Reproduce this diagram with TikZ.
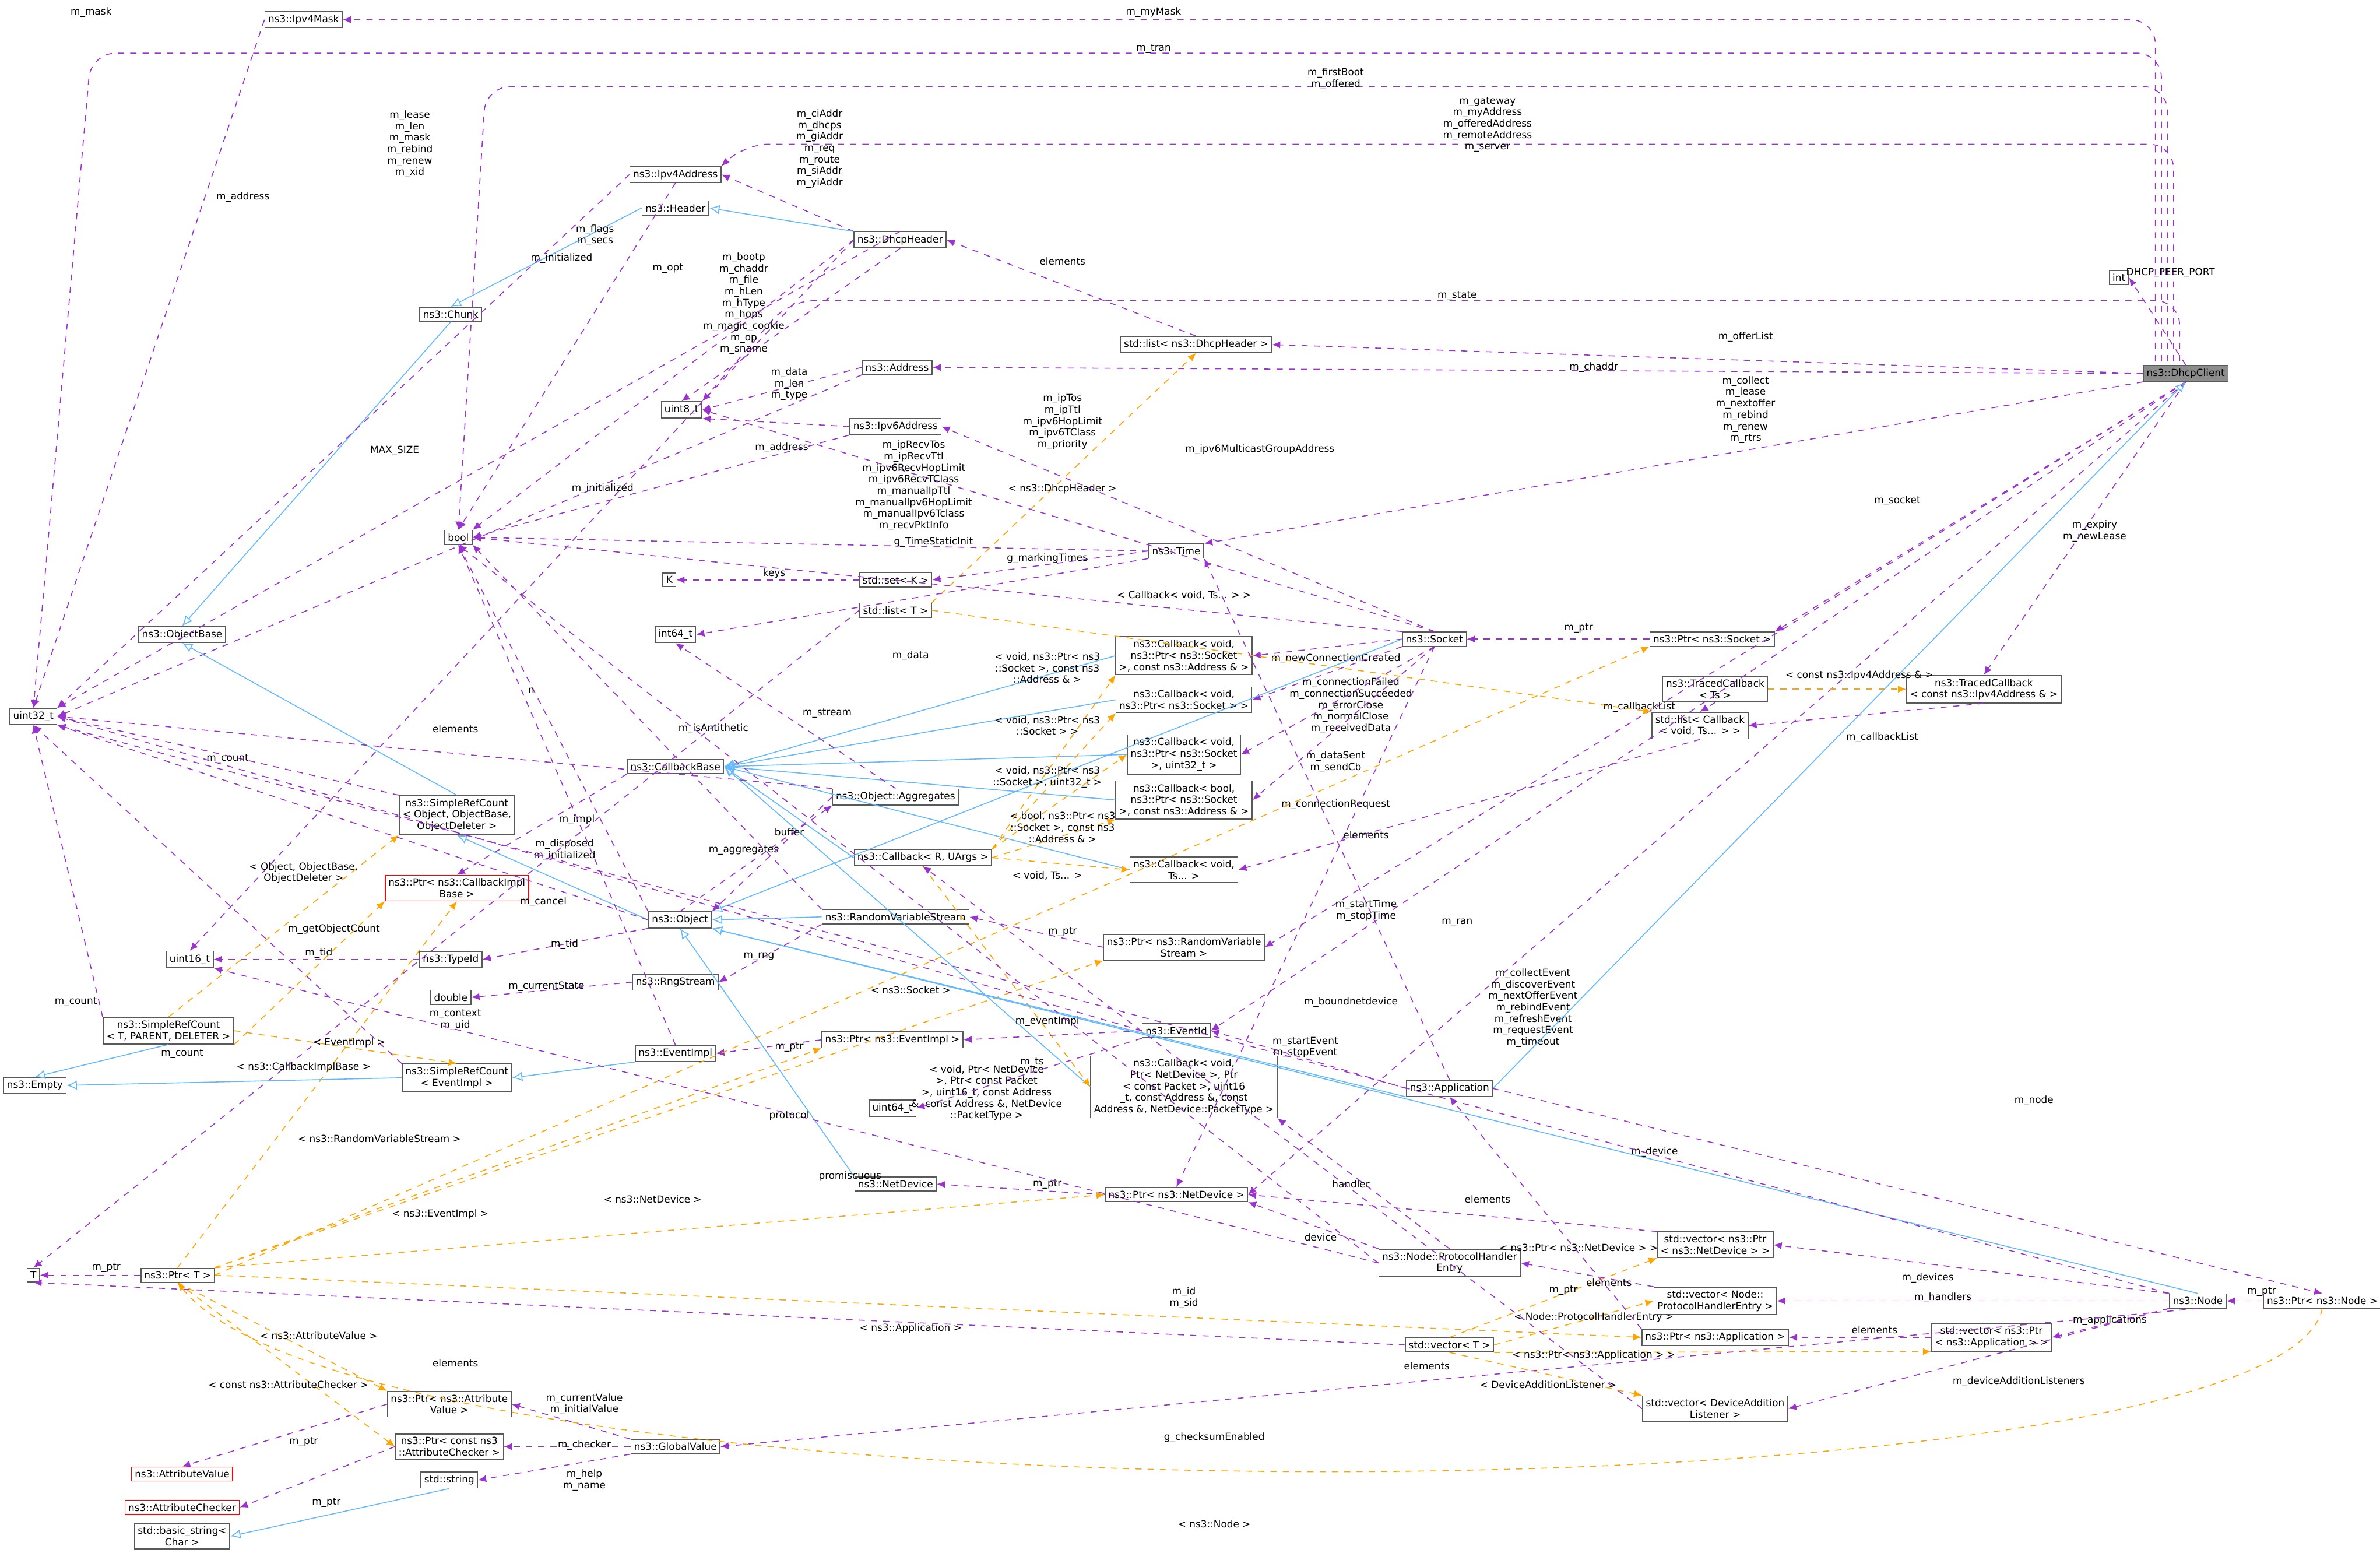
\documentclass[tikz,border=0pt]{standalone}
\usepackage{fontspec}
\setmainfont{DejaVu Sans}
\usetikzlibrary{arrows.meta}
\definecolor{usec}{HTML}{9A32CD}
\definecolor{inhc}{HTML}{63B8FF}
\definecolor{tplc}{HTML}{FFA500}
\tikzset{
 bx/.style={draw=black!65,fill=white,inner sep=1.6pt,align=center,font=\fontsize{4.8}{5.6}\selectfont},
 redbx/.style={bx,draw=red},
 graybx/.style={bx,fill=black!45},
 use/.style={draw=usec,dashed,-{Latex[length=4pt,width=3.5pt]},rounded corners=12pt},
 inh/.style={draw=inhc,-{Latex[open,length=5pt,width=4.5pt]}},
 tpl/.style={draw=tplc,dashed,-{Latex[length=4pt,width=3.5pt]}},
 lbl/.style={font=\fontsize{4.8}{5.6}\selectfont,align=center,inner sep=0.5pt,text=black}
}
\begin{document}
\begin{tikzpicture}[x=0.02604cm,y=-0.02604cm,line width=0.45pt]
\useasboundingbox (0,0) rectangle (1568,1023);
% nodes
\node[bx] (mask) at (200,13) {ns3::Ipv4Mask};
\node[graybx] (dc) at (1440,246) {ns3::DhcpClient};
\node[bx] (int) at (1396,183) {int};
\node[bx] (u32) at (22,472) {uint32\_t};
\node[bx] (ip4) at (445,115) {ns3::Ipv4Address};
\node[bx] (hdr) at (445,137) {ns3::Header};
\node[bx] (chunk) at (297,207) {ns3::Chunk};
\node[bx] (dh) at (593,158) {ns3::DhcpHeader};
\node[bx] (bool) at (302,354) {bool};
\node[bx] (ldh) at (788,227) {std::list< ns3::DhcpHeader >};
\node[bx] (addr) at (591,242) {ns3::Address};
\node[bx] (u8) at (449,270) {uint8\_t};
\node[bx] (ip6) at (590,281) {ns3::Ipv6Address};
\node[bx] (K) at (441,382) {K};
\node[bx] (setK) at (590,382) {std::set< K >};
\node[bx] (time) at (775,363) {ns3::Time};
\node[bx] (listT) at (590,402) {std::list< T >};
\node[bx] (i64) at (445,418) {int64\_t};
\node[bx] (ob) at (120,418) {ns3::ObjectBase};
\node[bx] (sock) at (945,421) {ns3::Socket};
\node[bx] (cbA) at (780,432) {ns3::Callback< void,\\ ns3::Ptr< ns3::Socket\\ >, const ns3::Address \& >};
\node[bx] (cbS) at (780,461) {ns3::Callback< void,\\ ns3::Ptr< ns3::Socket > >};
\node[bx] (psock) at (1128,421) {ns3::Ptr< ns3::Socket >};
\node[bx] (tcT) at (1130,454) {ns3::TracedCallback\\< Ts >};
\node[bx] (tcI) at (1307,454) {ns3::TracedCallback\\< const ns3::Ipv4Address \& >};
\node[bx] (lcb) at (1120,478) {std::list< Callback\\< void, Ts... > >};
\node[bx] (cbb) at (445,505) {ns3::CallbackBase};
\node[bx] (cbU) at (780,497) {ns3::Callback< void,\\ ns3::Ptr< ns3::Socket\\ >, uint32\_t >};
\node[bx] (cbB) at (780,527) {ns3::Callback< bool,\\ ns3::Ptr< ns3::Socket\\ >, const ns3::Address \& >};
\node[bx] (agg) at (590,525) {ns3::Object::Aggregates};
\node[bx] (srcO) at (301,537) {ns3::SimpleRefCount\\< Object, ObjectBase,\\ ObjectDeleter >};
\node[bx] (cbR) at (608,565) {ns3::Callback< R, UArgs >};
\node[redbx] (pcbi) at (301,585) {ns3::Ptr< ns3::CallbackImpl\\Base >};
\node[bx] (cbV) at (780,573) {ns3::Callback< void,\\ Ts... >};
\node[bx] (obj) at (448,606) {ns3::Object};
\node[bx] (rvs) at (590,604) {ns3::RandomVariableStream};
\node[bx] (prvs) at (780,624) {ns3::Ptr< ns3::RandomVariable\\Stream >};
\node[bx] (u16) at (125,632) {uint16\_t};
\node[bx] (tid) at (297,632) {ns3::TypeId};
\node[bx] (rng) at (445,647) {ns3::RngStream};
\node[bx] (dbl) at (297,657) {double};
\node[bx] (srcT) at (111,679) {ns3::SimpleRefCount\\< T, PARENT, DELETER >};
\node[bx] (pev) at (588,685) {ns3::Ptr< ns3::EventImpl >};
\node[bx] (evid) at (775,679) {ns3::EventId};
\node[bx] (evi) at (445,694) {ns3::EventImpl};
\node[bx] (u64) at (588,730) {uint64\_t};
\node[bx] (srcE) at (301,710) {ns3::SimpleRefCount\\< EventImpl >};
\node[bx] (empty) at (23,715) {ns3::Empty};
\node[bx] (app) at (955,717) {ns3::Application};
\node[bx] (cbN) at (780,716) {ns3::Callback< void,\\ Ptr< NetDevice >, Ptr\\< const Packet >, uint16\\\_t, const Address \&, const\\ Address \&, NetDevice::PacketType >};
\node[bx] (nd) at (590,780) {ns3::NetDevice};
\node[bx] (pnd) at (775,787) {ns3::Ptr< ns3::NetDevice >};
\node[bx] (T) at (22,840) {T};
\node[bx] (pT) at (117,840) {ns3::Ptr< T >};
\node[bx] (phe) at (955,832) {ns3::Node::ProtocolHandler\\Entry};
\node[bx] (vnd) at (1130,820) {std::vector< ns3::Ptr\\< ns3::NetDevice > >};
\node[bx] (node) at (1448,857) {ns3::Node};
\node[bx] (pnode) at (1530,857) {ns3::Ptr< ns3::Node >};
\node[bx] (vphe) at (1130,857) {std::vector< Node::\\ProtocolHandlerEntry >};
\node[bx] (vT) at (955,886) {std::vector< T >};
\node[bx] (papp) at (1130,881) {ns3::Ptr< ns3::Application >};
\node[bx] (vapp) at (1312,881) {std::vector< ns3::Ptr\\< ns3::Application > >};
\node[bx] (vdal) at (1130,928) {std::vector< DeviceAddition\\Listener >};
\node[bx] (pav) at (296,925) {ns3::Ptr< ns3::Attribute\\Value >};
\node[redbx] (av) at (120,971) {ns3::AttributeValue};
\node[bx] (pac) at (296,953) {ns3::Ptr< const ns3\\::AttributeChecker >};
\node[bx] (gv) at (445,953) {ns3::GlobalValue};
\node[redbx] (ac) at (120,993) {ns3::AttributeChecker};
\node[bx] (str) at (296,975) {std::string};
\node[bx] (bstr) at (120,1012) {std::basic\_string<\\ Char >};
% DhcpClient edges
\draw[use] (1420,238) |- (mask.east) node[lbl,at={(760,8)}] {m\_myMask};
\draw[use] (1424,238) |- (60,35) -- (u32.north) node[lbl,at={(760,32)}] {m\_tran};
\draw[use] (1428,238) |- (320,57) -- (bool.north) node[lbl,at={(880,52)}] {m\_firstBoot\\m\_offered};
\draw[use] (1432,238) |- (490,95) -- (ip4.north east) node[lbl,at={(980,82)}] {m\_gateway\\m\_myAddress\\m\_offeredAddress\\m\_remoteAddress\\m\_server};
\draw[use] (dc.north) -- (int.east) node[lbl,at={(1430,180)}] {DHCP\_PEER\_PORT};
\draw[use] (1436,238) |- (520,198) -- (u8.north east) node[lbl,at={(960,195)}] {m\_state};
\draw[use] (dc.west) -- (ldh.east) node[lbl,at={(1150,222)}] {m\_offerList};
\draw[use] (dc.west) -- (addr.east) node[lbl,at={(1050,242)}] {m\_chaddr};
\draw[use] (dc.south west) -- (time.north east) node[lbl,at={(1150,270)}] {m\_collect\\m\_lease\\m\_nextoffer\\m\_rebind\\m\_renew\\m\_rtrs};
\draw[use] (dc.south) -- (psock.north east) node[lbl,at={(1250,330)}] {m\_socket};
\draw[use] (dc.south) -- (tcI.north) node[lbl,at={(1380,350)}] {m\_expiry\\m\_newLease};
\draw[use] (dc.south) -- (prvs.east) node[lbl,at={(960,608)}] {m\_ran};
\draw[use] (dc.south) -- (evid.east) node[lbl,at={(1010,664)}] {m\_collectEvent\\m\_discoverEvent\\m\_nextOfferEvent\\m\_rebindEvent\\m\_refreshEvent\\m\_requestEvent\\m\_timeout};
\draw[use] (dc.south) -- (pnd.east) node[lbl,at={(1090,759)}] {m\_device};
\draw[inh] (app.east) -- (dc.south);
% header side
\draw[use] (mask.west) -- (u32.north) node[lbl,at={(60,8)}] {m\_mask};
\draw[use] (dh.north) -- (u32.north east) node[lbl,at={(270,95)}] {m\_lease\\m\_len\\m\_mask\\m\_rebind\\m\_renew\\m\_xid};
\draw[use] (dh.north west) -- (ip4.east) node[lbl,at={(540,98)}] {m\_ciAddr\\m\_dhcps\\m\_giAddr\\m\_req\\m\_route\\m\_siAddr\\m\_yiAddr};
\draw[inh] (dh.north west) -- (hdr.east);
\draw[inh] (hdr.west) -- (chunk.north);
\draw[inh] (chunk.south) -- (ob.north);
\draw[use] (dh.west) -- (bool.north east) node[lbl,at={(440,177)}] {m\_opt};
\draw[use] (dh.south) -- (u8.north) node[lbl,at={(490,200)}] {m\_bootp\\m\_chaddr\\m\_file\\m\_hLen\\m\_hType\\m\_hops\\m\_magic\_cookie\\m\_op\\m\_sname};
\draw[use] (dh.west) -- (u16.north) node[lbl,at={(392,155)}] {m\_flags\\m\_secs};
\draw[use] (ip4.west) -- (u32.north east) node[lbl,at={(160,130)}] {m\_address};
\draw[use] (ip4.south) -- (bool.north) node[lbl,at={(370,170)}] {m\_initialized};
\draw[use] (ldh.north) -- (dh.east) node[lbl,at={(700,172)}] {elements};
\draw[tpl] (listT.north east) -- (ldh.south) node[lbl,at={(700,322)}] {< ns3::DhcpHeader >};
\draw[use] (addr.west) -- (u8.east) node[lbl,at={(520,253)}] {m\_data\\m\_len\\m\_type};
\draw[use] (addr.south west) -- (u32.east) node[lbl,at={(260,297)}] {MAX\_SIZE};
\draw[use] (ip6.west) -- (u8.south east) node[lbl,at={(515,295)}] {m\_address};
\draw[use] (ip6.south west) -- (bool.east) node[lbl,at={(397,322)}] {m\_initialized};
% socket
\draw[use] (sock.north) -- (u8.east) node[lbl,at={(700,278)}] {m\_ipTos\\m\_ipTtl\\m\_ipv6HopLimit\\m\_ipv6TClass\\m\_priority};
\draw[use] (sock.north west) -- (bool.east) node[lbl,at={(602,320)}] {m\_ipRecvTos\\m\_ipRecvTtl\\m\_ipv6RecvHopLimit\\m\_ipv6RecvTClass\\m\_manualIpTtl\\m\_manualIpv6HopLimit\\m\_manualIpv6Tclass\\m\_recvPktInfo};
\draw[use] (sock.north) -- (ip6.east) node[lbl,at={(830,296)}] {m\_ipv6MulticastGroupAddress};
\draw[use] (sock.west) -- (cbA.east) node[lbl,at={(880,434)}] {m\_newConnectionCreated};
\draw[use] (sock.south west) -- (cbS.east) node[lbl,at={(890,465)}] {m\_connectionFailed\\m\_connectionSucceeded\\m\_errorClose\\m\_normalClose\\m\_receivedData};
\draw[use] (sock.south) -- (cbU.east) node[lbl,at={(880,502)}] {m\_dataSent\\m\_sendCb};
\draw[use] (sock.south) -- (cbB.east) node[lbl,at={(880,530)}] {m\_connectionRequest};
\draw[use] (sock.south) -- (pnd.north) node[lbl,at={(890,660)}] {m\_boundnetdevice};
\draw[inh] (sock.west) -- (obj.north east);
\draw[use] (psock.west) -- (sock.east) node[lbl,at={(1040,414)}] {m\_ptr};
\draw[use] (time.west) -- (bool.east) node[lbl,at={(615,357)}] {g\_TimeStaticInit};
\draw[use] (time.west) -- (setK.east) node[lbl,at={(690,368)}] {g\_markingTimes};
\draw[use] (time.south west) -- (i64.east) node[lbl,at={(600,432)}] {m\_data};
\draw[use] (setK.west) -- (K.east) node[lbl,at={(510,378)}] {keys};
\draw[use] (listT.west) -- (T.north) node[lbl,at={(300,480)}] {elements};
\draw[use] (tcT.south) -- (lcb.north) node[lbl,at={(1080,466)}] {m\_callbackList};
\draw[use] (tcI.south) -- (lcb.east) node[lbl,at={(1240,486)}] {m\_callbackList};
\draw[tpl] (tcT.east) -- (tcI.west) node[lbl,at={(1225,445)}] {< const ns3::Ipv4Address \& >};
\draw[tpl] (listT.east) -- (lcb.north west) node[lbl,at={(780,392)}] {< Callback< void, Ts... > >};
\draw[use] (lcb.south) -- (cbV.east) node[lbl,at={(900,550)}] {elements};
% callbacks
\foreach \c in {cbA,cbS,cbU,cbB,cbV,cbN,cbR} \draw[inh] (\c.west) -- (cbb.east);
\draw[tpl] (cbR.north east) -- (cbA.south west) node[lbl,at={(690,440)}] {< void, ns3::Ptr< ns3\\::Socket >, const ns3\\::Address \& >};
\draw[tpl] (cbR.north east) -- (cbS.south west) node[lbl,at={(690,478)}] {< void, ns3::Ptr< ns3\\::Socket > >};
\draw[tpl] (cbR.north east) -- (cbU.west) node[lbl,at={(690,512)}] {< void, ns3::Ptr< ns3\\::Socket >, uint32\_t >};
\draw[tpl] (cbR.east) -- (cbB.south west) node[lbl,at={(700,545)}] {< bool, ns3::Ptr< ns3\\::Socket >, const ns3\\::Address \& >};
\draw[tpl] (cbR.east) -- (cbV.west) node[lbl,at={(690,577)}] {< void, Ts... >};
\draw[tpl] (cbR.south) -- (cbN.west) node[lbl,at={(650,720)}] {< void, Ptr< NetDevice\\ >, Ptr< const Packet\\ >, uint16\_t, const Address\\ \&, const Address \&, NetDevice\\::PacketType >};
\draw[use] (cbb.south west) -- (pcbi.north) node[lbl,at={(380,540)}] {m\_impl};
\draw[tpl] (pT.north) -- (pcbi.south);
\draw[use] (srcO.north west) -- (u32.east) node[lbl,at={(150,500)}] {m\_count};
\draw[inh] (srcO.north) -- (ob.south);
\draw[tpl] (srcT.north) -- (srcO.south west) node[lbl,at={(200,575)}] {< Object, ObjectBase,\\ ObjectDeleter >};
\draw[inh] (obj.west) -- (srcO.south);
\draw[use] (obj.north west) -- (bool.south) node[lbl,at={(372,560)}] {m\_disposed\\m\_initialized};
\draw[use] (obj.north) -- (agg.south west) node[lbl,at={(490,560)}] {m\_aggregates};
\draw[use] (obj.south west) -- (tid.east) node[lbl,at={(372,622)}] {m\_tid};
\draw[use] (obj.west) -- (u32.south east) node[lbl,at={(220,612)}] {m\_getObjectCount};
\draw[use] (agg.west) -- (obj.north east) node[lbl,at={(520,548)}] {buffer};
\draw[use] (agg.north west) -- (u32.east) node[lbl,at={(350,455)}] {n};
\draw[use] (agg.north) -- (i64.south) node[lbl,at={(545,470)}] {m\_stream};
\draw[inh] (rvs.west) -- (obj.east);
\draw[use] (rvs.south west) -- (rng.east) node[lbl,at={(500,630)}] {m\_rng};
\draw[use] (rvs.north west) -- (bool.south east) node[lbl,at={(470,480)}] {m\_isAntithetic};
\draw[use] (rng.west) -- (dbl.east) node[lbl,at={(360,650)}] {m\_currentState};
\draw[use] (prvs.west) -- (rvs.east) node[lbl,at={(700,614)}] {m\_ptr};
\draw[tpl] (pT.north east) -- (prvs.south west) node[lbl,at={(250,750)}] {< ns3::RandomVariableStream >};
\draw[use] (tid.west) -- (u16.east) node[lbl,at={(210,628)}] {m\_tid};
\draw[inh] (srcT.south) -- (empty.north);
\draw[use] (srcT.north west) -- (u32.south) node[lbl,at={(50,660)}] {m\_count};
\draw[inh] (srcE.west) -- (empty.east);
\draw[use] (srcE.north west) -- (u32.south) node[lbl,at={(120,694)}] {m\_count};
\draw[tpl] (srcT.east) -- (srcE.north) node[lbl,at={(230,687)}] {< EventImpl >};
\draw[inh] (evi.south west) -- (srcE.east);
\draw[use] (evi.north) -- (bool.south) node[lbl,at={(358,594)}] {m\_cancel};
\draw[use] (pev.west) -- (evi.east) node[lbl,at={(520,690)}] {m\_ptr};
\draw[tpl] (pT.north east) -- (pev.south west) node[lbl,at={(290,800)}] {< ns3::EventImpl >};
\draw[tpl] (srcT.south east) -- (pcbi.south west) node[lbl,at={(200,703)}] {< ns3::CallbackImplBase >};
\draw[use] (evid.west) -- (pev.east) node[lbl,at={(690,673)}] {m\_eventImpl};
\draw[use] (evid.south west) -- (u64.east) node[lbl,at={(680,700)}] {m\_ts};
\draw[use] (evid.west) -- (u32.east) node[lbl,at={(300,672)}] {m\_context\\m\_uid};
\draw[use] (app.west) -- (evid.east) node[lbl,at={(860,690)}] {m\_startEvent\\m\_stopEvent};
\draw[use] (app.north) -- (time.south east) node[lbl,at={(900,600)}] {m\_startTime\\m\_stopTime};
\draw[use] (app.east) -- (pnode.north) node[lbl,at={(1340,725)}] {m\_node};
\draw[inh] (app.south west) -- (obj.south east);
\draw[inh] (nd.north west) -- (obj.south);
\draw[use] (pnd.west) -- (nd.east) node[lbl,at={(690,780)}] {m\_ptr};
\draw[tpl] (pT.north east) -- (pnd.west) node[lbl,at={(430,790)}] {< ns3::NetDevice >};
\draw[tpl] (pT.east) -- (psock.south west) node[lbl,at={(600,652)}] {< ns3::Socket >};
\draw[use] (phe.north west) -- (pnd.south east) node[lbl,at={(870,815)}] {device};
\draw[use] (phe.north) -- (cbN.south east) node[lbl,at={(890,780)}] {handler};
\draw[use] (phe.west) -- (u16.south east) node[lbl,at={(520,735)}] {protocol};
\draw[use] (phe.west) -- (bool.south) node[lbl,at={(560,775)}] {promiscuous};
\draw[use] (vnd.north west) -- (pnd.east) node[lbl,at={(980,790)}] {elements};
\draw[tpl] (vT.north) -- (vnd.south west) node[lbl,at={(1040,822)}] {< ns3::Ptr< ns3::NetDevice > >};
\draw[use] (vphe.north west) -- (phe.east) node[lbl,at={(1060,845)}] {elements};
\draw[tpl] (vT.east) -- (vphe.west) node[lbl,at={(1050,868)}] {< Node::ProtocolHandlerEntry >};
\draw[use] (papp.north west) -- (app.south) node[lbl,at={(1030,850)}] {m\_ptr};
\draw[tpl] (pT.east) -- (papp.west) node[lbl,at={(600,875)}] {< ns3::Application >};
\draw[use] (vapp.west) -- (papp.east) node[lbl,at={(1235,876)}] {elements};
\draw[tpl] (vT.south east) -- (vapp.south west) node[lbl,at={(1050,893)}] {< ns3::Ptr< ns3::Application > >};
\draw[use] (vT.west) -- (T.south) node[lbl,at={(300,898)}] {elements};
\draw[use] (vdal.west) -- (cbR.south) node[lbl,at={(940,900)}] {elements};
\draw[tpl] (vT.south) -- (vdal.north west) node[lbl,at={(1020,912)}] {< DeviceAdditionListener >};
\draw[inh] (node.north) -- (obj.south east);
\draw[use] (node.north west) -- (vnd.east) node[lbl,at={(1270,842)}] {m\_devices};
\draw[use] (node.west) -- (vphe.east) node[lbl,at={(1280,855)}] {m\_handlers};
\draw[use] (node.south west) -- (vapp.east) node[lbl,at={(1390,870)}] {m\_applications};
\draw[use] (node.south west) -- (vdal.east) node[lbl,at={(1330,910)}] {m\_deviceAdditionListeners};
\draw[use] (node.north west) -- (u32.south east) node[lbl,at={(780,855)}] {m\_id\\m\_sid};
\draw[use] (node.south) -- (gv.east) node[lbl,at={(800,947)}] {g\_checksumEnabled};
\draw[use] (pnode.west) -- (node.east) node[lbl,at={(1490,851)}] {m\_ptr};
\draw[tpl] (pnode.south) .. controls (1500,1005) and (250,1010) .. (pT.south) node[lbl,at={(800,1004)}] {< ns3::Node >};
\draw[use] (pT.west) -- (T.east) node[lbl,at={(70,835)}] {m\_ptr};
\draw[use] (pav.west) -- (av.north) node[lbl,at={(200,950)}] {m\_ptr};
\draw[tpl] (pT.south) -- (pav.north west) node[lbl,at={(210,880)}] {< ns3::AttributeValue >};
\draw[use] (pac.west) -- (ac.east) node[lbl,at={(215,990)}] {m\_ptr};
\draw[tpl] (pT.south) -- (pac.west) node[lbl,at={(190,912)}] {< const ns3::AttributeChecker >};
\draw[use] (gv.north west) -- (pav.east) node[lbl,at={(385,925)}] {m\_currentValue\\m\_initialValue};
\draw[use] (gv.west) -- (pac.east) node[lbl,at={(385,952)}] {m\_checker};
\draw[use] (gv.south west) -- (str.east) node[lbl,at={(385,975)}] {m\_help\\m\_name};
\draw[inh] (str.south) -- (bstr.east);
\end{tikzpicture}
\end{document}
